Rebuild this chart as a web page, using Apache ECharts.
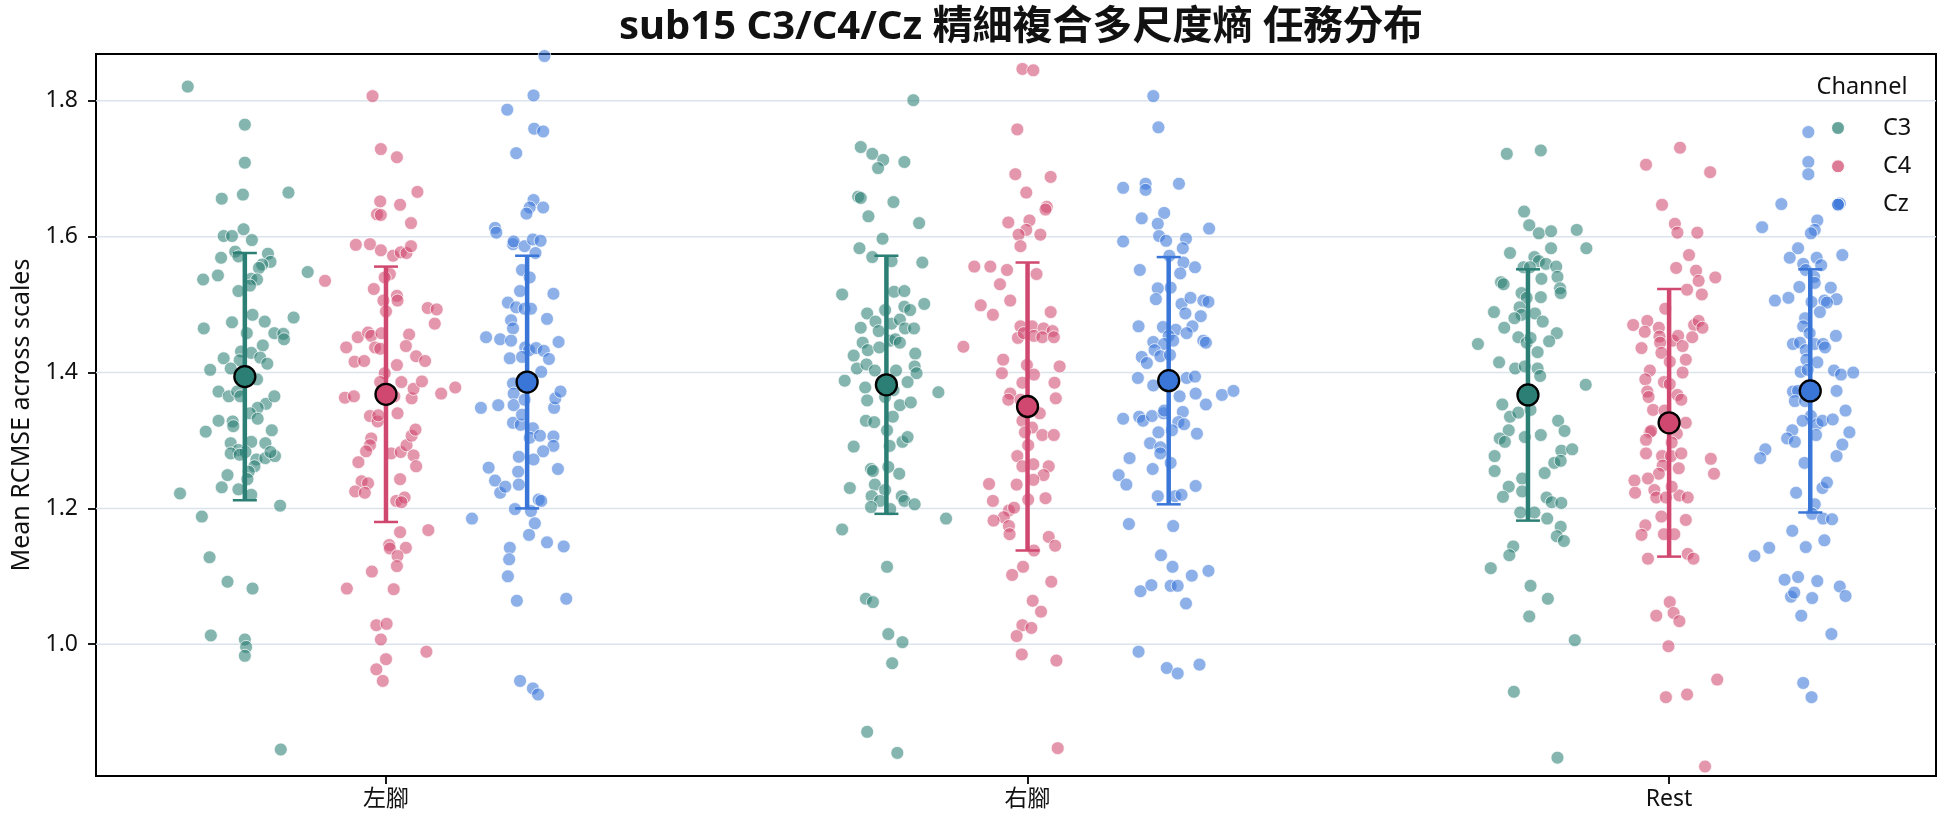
<!DOCTYPE html>
<html>
<head>
<meta charset="utf-8">
<script src="https://cdn.jsdelivr.net/npm/echarts@6/dist/echarts.min.js"></script>
<style>
  html, body { margin: 0; padding: 0; background: #fff; }
  #chart { width: 1944px; height: 827px; }
</style>
</head>
<body>
<div id="chart"></div>
<script>
const categories = ['左腳', '右腳', 'Rest']
const channels = ['C3', 'C4', 'Cz']
const yTicks = [1.0, 1.2, 1.4, 1.6, 1.8]

// each point: [jitter (category units), mean RCMSE]
const c3Left = [[-0.089,1.821],[0,1.765],[0,1.709],[-0.036,1.656],[-0.003,1.662],[0.068,1.665],[-0.033,1.601],[-0.020,1.601],[-0.002,1.611],[0.011,1.595],[-0.037,1.569],[-0.015,1.578],[-0.010,1.571],[0.036,1.575],[0.040,1.563],[0.027,1.559],[0.022,1.554],[-0.065,1.537],[-0.042,1.543],[0.098,1.548],[0.010,1.538],[0.019,1.537],[0.008,1.528],[-0.010,1.520],[0.012,1.485],[-0.064,1.465],[-0.020,1.474],[0.003,1.458],[0.031,1.475],[0.076,1.481],[0.046,1.458],[0.060,1.457],[0.061,1.449],[0.028,1.440],[-0.006,1.431],[0.010,1.429],[-0.033,1.421],[-0.008,1.418],[0.024,1.422],[0.035,1.413],[-0.054,1.404],[-0.022,1.406],[0.019,1.390],[-0.041,1.372],[-0.025,1.365],[-0.012,1.372],[-0.007,1.365],[0.033,1.354],[0.046,1.365],[0.020,1.348],[0.008,1.340],[-0.041,1.329],[-0.019,1.328],[-0.018,1.321],[0.020,1.332],[-0.061,1.313],[0.042,1.315],[0.010,1.298],[-0.022,1.296],[0.032,1.296],[-0.010,1.286],[0.001,1.283],[-0.022,1.281],[-0.008,1.279],[0.018,1.272],[0.032,1.274],[0.047,1.277],[0.040,1.283],[0.015,1.262],[0.006,1.254],[-0.027,1.249],[-0.036,1.231],[0.004,1.243],[-0.010,1.228],[0.010,1.220],[-0.101,1.222],[0.055,1.204],[-0.067,1.188],[-0.055,1.128],[-0.027,1.092],[0.012,1.082],[-0.053,1.013],[0,1.007],[0.002,0.996],[0,0.983],[0.056,0.845]]
const c4Left = [[-0.021,1.807],[-0.008,1.729],[0.017,1.717],[0.049,1.666],[-0.009,1.652],[0.022,1.647],[-0.014,1.633],[-0.008,1.632],[0.039,1.620],[-0.047,1.588],[-0.025,1.589],[-0.008,1.580],[0.011,1.572],[0.023,1.577],[0.032,1.576],[0.039,1.586],[-0.095,1.535],[0.006,1.545],[-0.002,1.540],[-0.019,1.523],[-0.004,1.506],[0.017,1.513],[0.018,1.506],[0,1.490],[0.065,1.495],[0.079,1.493],[0.076,1.472],[-0.062,1.437],[-0.044,1.452],[-0.028,1.459],[-0.023,1.454],[-0.007,1.458],[-0.017,1.437],[-0.009,1.435],[0.036,1.456],[0.031,1.439],[-0.049,1.416],[-0.034,1.417],[0.017,1.411],[0.047,1.424],[0.061,1.417],[-0.002,1.399],[-0.064,1.363],[-0.050,1.365],[-0.009,1.386],[0.013,1.365],[0.024,1.386],[0.040,1.362],[0.043,1.376],[0.056,1.387],[0.086,1.369],[0.108,1.378],[-0.025,1.336],[-0.013,1.328],[-0.012,1.337],[0.018,1.340],[-0.023,1.303],[-0.025,1.293],[-0.031,1.284],[0.008,1.281],[0.023,1.283],[0.032,1.293],[0.040,1.307],[0.046,1.316],[0.043,1.278],[0.047,1.262],[-0.043,1.268],[-0.038,1.240],[-0.028,1.237],[-0.048,1.225],[-0.033,1.223],[0.022,1.243],[0.016,1.211],[0.029,1.216],[0.024,1.209],[0.022,1.165],[0.066,1.168],[0.005,1.146],[0.006,1.141],[0.031,1.142],[0.018,1.130],[0.017,1.115],[-0.022,1.107],[-0.061,1.082],[0.012,1.081],[-0.015,1.028],[0.001,1.030],[-0.008,1.007],[0.063,0.989],[0,0.978],[-0.015,0.963],[-0.005,0.946]]
const czLeft = [[0.027,1.866],[0.010,1.808],[-0.031,1.787],[0.011,1.759],[0.025,1.755],[-0.017,1.723],[0.010,1.654],[0.004,1.643],[0.025,1.643],[-0.001,1.634],[-0.050,1.613],[-0.048,1.606],[-0.022,1.589],[-0.021,1.593],[-0.004,1.586],[0.009,1.596],[0.021,1.594],[0.013,1.576],[-0.008,1.551],[0.004,1.540],[0.041,1.516],[-0.011,1.520],[-0.030,1.503],[-0.017,1.496],[-0.004,1.494],[0.006,1.494],[0.031,1.479],[-0.025,1.477],[-0.022,1.465],[-0.064,1.452],[-0.042,1.449],[-0.025,1.447],[-0.003,1.437],[0.003,1.433],[0.014,1.436],[0.026,1.432],[0.034,1.420],[0.049,1.445],[-0.027,1.421],[-0.008,1.423],[0.022,1.401],[-0.022,1.384],[-0.021,1.369],[-0.072,1.348],[-0.045,1.352],[-0.021,1.352],[-0.004,1.360],[0.042,1.348],[0.044,1.362],[0.052,1.372],[-0.022,1.326],[-0.010,1.323],[-0.008,1.338],[0.009,1.318],[0.004,1.304],[0.020,1.307],[0.041,1.306],[0.041,1.292],[0.025,1.284],[0.010,1.272],[-0.013,1.276],[-0.060,1.260],[0.048,1.258],[-0.014,1.254],[-0.050,1.241],[-0.042,1.223],[-0.034,1.232],[-0.013,1.235],[-0.019,1.199],[0.006,1.196],[0.018,1.213],[0.022,1.211],[-0.086,1.185],[0.012,1.178],[0.003,1.161],[0.031,1.150],[0.057,1.144],[-0.027,1.142],[-0.028,1.125],[-0.030,1.100],[-0.016,1.064],[0.061,1.067],[-0.011,0.946],[0.009,0.935],[0.017,0.926]]
const c3Right = [[0.042,1.801],[-0.040,1.732],[-0.022,1.722],[-0.005,1.713],[-0.013,1.701],[0.028,1.710],[-0.044,1.659],[-0.040,1.657],[0.011,1.651],[-0.028,1.630],[0.051,1.620],[-0.006,1.597],[-0.042,1.583],[-0.022,1.570],[0.008,1.564],[0.056,1.562],[-0.069,1.515],[0.012,1.519],[0.028,1.520],[0.059,1.501],[-0.030,1.487],[-0.002,1.492],[0.028,1.497],[0.037,1.492],[-0.017,1.475],[0.008,1.472],[0.021,1.478],[-0.040,1.466],[-0.012,1.461],[0.029,1.465],[0.043,1.465],[-0.037,1.444],[-0.029,1.433],[-0.011,1.437],[0.006,1.447],[0.014,1.449],[0.021,1.444],[-0.051,1.425],[0.045,1.428],[-0.046,1.406],[-0.031,1.412],[-0.018,1.403],[0.015,1.403],[0.044,1.409],[0.047,1.399],[-0.065,1.388],[0.033,1.386],[0.081,1.371],[-0.033,1.378],[-0.030,1.359],[0.011,1.374],[-0.002,1.364],[0.021,1.352],[0.038,1.356],[0.010,1.335],[-0.032,1.329],[-0.019,1.327],[0.001,1.315],[0.025,1.298],[0.033,1.305],[0.005,1.292],[-0.051,1.291],[0.003,1.261],[-0.024,1.258],[-0.021,1.255],[0.020,1.251],[-0.057,1.230],[-0.018,1.235],[-0.002,1.227],[-0.023,1.218],[-0.010,1.211],[0.024,1.218],[0.028,1.211],[0.044,1.206],[-0.024,1.202],[0.006,1.199],[0.093,1.185],[-0.069,1.169],[0.001,1.114],[-0.032,1.067],[-0.021,1.062],[0.003,1.015],[0.025,1.003],[0.009,0.972],[-0.030,0.871],[0.017,0.840]]
const c4Right = [[-0.008,1.847],[0.009,1.845],[-0.016,1.758],[-0.019,1.692],[0.036,1.688],[-0.002,1.665],[0.030,1.644],[0.028,1.640],[-0.030,1.621],[0.003,1.624],[-0.002,1.610],[0.020,1.603],[-0.014,1.603],[-0.011,1.586],[-0.083,1.556],[-0.058,1.556],[-0.032,1.551],[0.014,1.545],[-0.043,1.530],[-0.073,1.499],[-0.027,1.506],[-0.054,1.485],[0.036,1.489],[-0.011,1.468],[0.007,1.468],[0.025,1.465],[0.039,1.461],[-0.015,1.451],[-0.006,1.458],[0.010,1.454],[0.023,1.452],[0.041,1.452],[-0.100,1.438],[-0.038,1.419],[-0.040,1.399],[-0.001,1.411],[0.010,1.397],[0.050,1.409],[0.042,1.385],[0.044,1.362],[-0.008,1.385],[-0.027,1.369],[-0.030,1.360],[-0.011,1.360],[0.019,1.340],[-0.008,1.329],[0.007,1.319],[-0.004,1.312],[0.023,1.308],[0.041,1.308],[0.001,1.293],[-0.016,1.277],[0.009,1.265],[-0.008,1.262],[0.033,1.262],[0.025,1.249],[0.009,1.242],[-0.017,1.235],[-0.060,1.236],[-0.054,1.211],[0.001,1.213],[0.028,1.215],[-0.029,1.197],[-0.021,1.201],[-0.037,1.187],[-0.053,1.182],[-0.029,1.174],[-0.028,1.162],[0.033,1.158],[0.043,1.145],[0.010,1.138],[-0.007,1.114],[-0.024,1.102],[0.037,1.092],[0.008,1.064],[0.021,1.048],[-0.008,1.028],[0.006,1.024],[-0.017,1.012],[-0.009,0.985],[0.045,0.976],[0.047,0.847]]
const czRight = [[-0.024,1.807],[-0.016,1.761],[-0.071,1.672],[-0.036,1.678],[-0.036,1.669],[0.016,1.678],[-0.042,1.627],[-0.007,1.635],[-0.017,1.619],[0.063,1.612],[-0.071,1.593],[-0.015,1.601],[-0.004,1.594],[0.027,1.597],[0.022,1.583],[0.001,1.572],[-0.045,1.551],[0.023,1.562],[0.041,1.555],[0.018,1.546],[0.003,1.525],[-0.017,1.524],[-0.020,1.508],[0.020,1.501],[0.034,1.510],[0.054,1.506],[0.062,1.504],[0.026,1.487],[0.050,1.483],[-0.047,1.468],[-0.009,1.467],[0.011,1.463],[0.037,1.468],[0.028,1.458],[0,1.454],[0.007,1.447],[-0.024,1.445],[-0.007,1.442],[0.054,1.447],[0.058,1.444],[-0.022,1.433],[-0.042,1.423],[-0.034,1.414],[-0.013,1.424],[0.002,1.426],[-0.048,1.392],[-0.024,1.381],[0.028,1.392],[0.041,1.394],[0.042,1.369],[0.017,1.365],[0.058,1.353],[0.083,1.367],[0.101,1.373],[-0.071,1.332],[-0.046,1.335],[-0.040,1.329],[-0.026,1.336],[-0.008,1.340],[-0.007,1.344],[0.022,1.342],[0.015,1.327],[0.024,1.324],[0.044,1.310],[-0.016,1.312],[0.005,1.315],[-0.029,1.296],[-0.013,1.290],[-0.013,1.281],[0.003,1.267],[-0.061,1.274],[-0.025,1.258],[-0.078,1.249],[-0.066,1.235],[0.042,1.233],[-0.017,1.218],[0.010,1.218],[0.020,1.220],[-0.062,1.177],[0.007,1.174],[-0.012,1.131],[0.006,1.114],[0.036,1.101],[0.062,1.108],[-0.044,1.078],[-0.027,1.087],[0.003,1.086],[0.014,1.086],[0.027,1.060],[-0.047,0.989],[-0.003,0.965],[0.014,0.957],[0.048,0.970]]
const c3Rest = [[-0.033,1.722],[0.020,1.727],[-0.006,1.637],[0.002,1.617],[0.017,1.605],[0.036,1.608],[0.076,1.610],[0.091,1.583],[0.036,1.583],[-0.028,1.576],[0.010,1.570],[0.017,1.564],[0.028,1.560],[0.044,1.556],[-0.007,1.555],[0.003,1.555],[0.046,1.541],[0.021,1.538],[-0.042,1.533],[-0.038,1.530],[0.050,1.524],[0.051,1.517],[-0.010,1.517],[-0.002,1.510],[0.020,1.511],[-0.053,1.489],[-0.013,1.496],[-0.010,1.485],[0.011,1.487],[-0.021,1.480],[0.023,1.475],[-0.037,1.466],[0.045,1.458],[-0.015,1.452],[-0.002,1.444],[0.004,1.451],[0.033,1.446],[-0.078,1.442],[0.015,1.430],[-0.045,1.415],[-0.020,1.406],[-0.005,1.409],[0.015,1.406],[0.019,1.395],[0.090,1.382],[-0.040,1.353],[-0.028,1.335],[-0.015,1.341],[0.004,1.345],[0.047,1.329],[0.057,1.314],[-0.030,1.315],[-0.044,1.303],[-0.036,1.298],[-0.005,1.305],[0.020,1.308],[-0.052,1.277],[0.052,1.285],[0.069,1.287],[0.041,1.267],[0.051,1.270],[-0.052,1.255],[0.026,1.252],[-0.009,1.244],[-0.030,1.232],[-0.009,1.225],[-0.039,1.217],[0.029,1.216],[0.037,1.209],[0.052,1.208],[-0.012,1.194],[0.010,1.194],[0.030,1.185],[0.051,1.173],[0.045,1.159],[0.056,1.152],[-0.023,1.144],[-0.029,1.131],[-0.058,1.112],[0.004,1.086],[0.031,1.067],[0.002,1.041],[0.073,1.006],[-0.022,0.930],[0.046,0.833]]
const c4Rest = [[0.017,1.731],[-0.036,1.706],[0.064,1.695],[-0.011,1.647],[0.009,1.619],[0.013,1.606],[0.044,1.606],[0.031,1.573],[0.011,1.554],[0.042,1.550],[0.046,1.535],[0.072,1.540],[0.028,1.522],[0.051,1.515],[-0.006,1.494],[-0.056,1.470],[-0.034,1.476],[-0.038,1.460],[-0.016,1.466],[-0.015,1.453],[-0.014,1.444],[0.006,1.447],[0.014,1.454],[0.039,1.470],[0.046,1.476],[0.052,1.466],[0.036,1.452],[0.021,1.439],[-0.043,1.436],[-0.012,1.429],[0.026,1.419],[0.001,1.416],[-0.030,1.403],[0.021,1.400],[-0.037,1.390],[-0.008,1.386],[0.001,1.383],[-0.034,1.372],[-0.032,1.364],[0.013,1.367],[0.019,1.360],[-0.025,1.345],[-0.007,1.344],[0.026,1.326],[-0.030,1.312],[-0.028,1.314],[0.012,1.310],[-0.036,1.301],[0.004,1.297],[-0.036,1.281],[-0.011,1.277],[0.003,1.277],[0.019,1.281],[-0.010,1.263],[0.015,1.259],[-0.016,1.251],[-0.033,1.244],[-0.054,1.241],[-0.053,1.223],[-0.023,1.227],[-0.020,1.216],[-0.005,1.216],[0.016,1.219],[0.029,1.216],[0.004,1.232],[0.065,1.273],[0.070,1.251],[-0.012,1.188],[0.026,1.183],[-0.037,1.175],[-0.043,1.161],[-0.008,1.162],[0.008,1.162],[-0.033,1.126],[0.029,1.133],[0.038,1.126],[0.001,1.062],[-0.020,1.042],[0.007,1.046],[0.016,1.034],[-0.001,0.997],[0.075,0.948],[-0.005,0.922],[0.028,0.926],[0.056,0.820]]
const czRest = [[-0.003,1.754],[-0.003,1.710],[-0.003,1.692],[-0.045,1.648],[0.044,1.647],[0.046,1.649],[-0.075,1.614],[0.011,1.624],[0.007,1.610],[0.001,1.605],[-0.019,1.583],[-0.032,1.569],[0.050,1.573],[-0.011,1.560],[0.010,1.569],[0.017,1.558],[-0.007,1.551],[0.006,1.541],[0.007,1.532],[-0.017,1.526],[0.032,1.525],[-0.055,1.506],[-0.034,1.510],[0.002,1.504],[0.022,1.506],[0.041,1.508],[0.026,1.503],[0.015,1.489],[-0.008,1.480],[-0.011,1.468],[-0.001,1.458],[0.040,1.454],[-0.027,1.442],[-0.016,1.444],[-0.007,1.433],[0.007,1.442],[0.020,1.442],[0.023,1.437],[-0.006,1.419],[0.011,1.415],[-0.015,1.401],[-0.004,1.404],[0.037,1.403],[0.048,1.397],[0.067,1.400],[-0.027,1.372],[-0.019,1.373],[0.041,1.373],[-0.024,1.358],[-0.008,1.358],[0.055,1.344],[0.001,1.336],[-0.012,1.329],[0.011,1.324],[0.019,1.329],[0.035,1.331],[-0.028,1.315],[0.061,1.312],[0.009,1.308],[-0.036,1.303],[-0.024,1.298],[0.050,1.294],[-0.070,1.287],[-0.078,1.274],[0.041,1.277],[-0.009,1.267],[0.019,1.230],[0.026,1.238],[-0.022,1.223],[0.007,1.206],[0.003,1.192],[0.020,1.185],[0.034,1.184],[-0.028,1.167],[0.022,1.153],[-0.064,1.142],[-0.007,1.143],[-0.087,1.130],[-0.040,1.095],[-0.019,1.099],[0.011,1.093],[0.046,1.085],[-0.030,1.070],[-0.025,1.076],[0.003,1.068],[0.055,1.071],[-0.014,1.042],[0.033,1.015],[-0.011,0.943],[0.002,0.922]]

// group mean and standard deviation (left, right, rest)
const meanC3 = [1.394, 1.382, 1.367]
const sdC3 = [0.182, 0.190, 0.185]
const meanC4 = [1.368, 1.350, 1.326]
const sdC4 = [0.188, 0.212, 0.197]
const meanCz = [1.386, 1.388, 1.373]
const sdCz = [0.186, 0.182, 0.179]

const groups = {
  C3: { pts: [c3Left, c3Right, c3Rest], mean: meanC3, sd: sdC3, color: '#2b7f74', light: 'rgba(43,127,116,0.72)' },
  C4: { pts: [c4Left, c4Right, c4Rest], mean: meanC4, sd: sdC4, color: '#d0486f', light: 'rgba(208,72,111,0.72)' },
  Cz: { pts: [czLeft, czRight, czRest], mean: meanCz, sd: sdCz, color: '#3a76d8', light: 'rgba(58,118,216,0.72)' }
}
const dodge = [-0.22, 0, 0.22]
const fontFamily = "'Noto Sans', 'Noto Sans CJK TC', sans-serif"

const chart = echarts.init(document.getElementById('chart'))

function renderErr (params, api) {
  const x = api.value(0)
  const m = api.value(1)
  const s = api.value(2)
  const top = api.coord([x, m + s])
  const bot = api.coord([x, m - s])
  const color = api.visual('color')
  return {
    type: 'group',
    children: [
      { type: 'line', shape: { x1: top[0], y1: top[1], x2: bot[0], y2: bot[1] }, style: { stroke: color, lineWidth: 4.5 } },
      { type: 'line', shape: { x1: top[0] - 12, y1: top[1], x2: top[0] + 12, y2: top[1] }, style: { stroke: color, lineWidth: 2.5 } },
      { type: 'line', shape: { x1: bot[0] - 12, y1: bot[1], x2: bot[0] + 12, y2: bot[1] }, style: { stroke: color, lineWidth: 2.5 } }
    ]
  }
}

// horizontal grid lines at the y ticks
function renderGrid (params, api) {
  const p = api.coord([0, api.value(1)])
  const cs = params.coordSys
  return {
    type: 'line',
    shape: { x1: cs.x, y1: p[1], x2: cs.x + cs.width, y2: p[1] },
    style: { stroke: '#dbe4ec', lineWidth: 1.5 }
  }
}

const series = [{
  type: 'custom',
  name: 'grid',
  renderItem: renderGrid,
  data: yTicks.map(v => [0, v]),
  z: 1,
  silent: true
}]

channels.forEach((ch, j) => {
  const g = groups[ch]
  const data = []
  g.pts.forEach((arr, i) => {
    arr.forEach(p => data.push([i + dodge[j] + p[0], p[1]]))
  })
  series.push({
    type: 'scatter',
    name: ch,
    data: data,
    symbolSize: 13,
    itemStyle: { color: g.light, borderColor: 'rgba(255,255,255,0.9)', borderWidth: 1 },
    z: 2
  })
})

channels.forEach((ch, j) => {
  const g = groups[ch]
  series.push({
    type: 'custom',
    name: ch + ' sd',
    renderItem: renderErr,
    itemStyle: { color: g.color },
    encode: { x: 0, y: 1 },
    data: categories.map((c, i) => [i + dodge[j], g.mean[i], g.sd[i]]),
    z: 3
  })
  series.push({
    type: 'scatter',
    name: ch + ' mean',
    data: categories.map((c, i) => [i + dodge[j], g.mean[i]]),
    symbolSize: 21,
    itemStyle: { color: g.color, borderColor: '#000', borderWidth: 2.3, opacity: 1 },
    z: 5
  })
})

// legend box in the upper right corner (title + one row per channel)
const legendItems = [{
  type: 'text',
  x: 1862,
  y: 87,
  style: { text: 'Channel', fontSize: 23.5, fill: '#111', align: 'center', verticalAlign: 'middle', fontFamily: fontFamily }
}]
channels.forEach((ch, j) => {
  const y = 128 + j * 38.3
  legendItems.push({
    type: 'circle',
    shape: { cx: 1838, cy: y, r: 6.5 },
    style: { fill: groups[ch].light, stroke: '#fff', lineWidth: 1 },
    z: 10
  })
  legendItems.push({
    type: 'text',
    x: 1883,
    y: y,
    style: { text: ch, fontSize: 23.5, fill: '#111', align: 'left', verticalAlign: 'middle', fontFamily: fontFamily },
    z: 10
  })
})

const option = {
  animation: false,
  backgroundColor: '#fff',
  textStyle: { fontFamily: fontFamily },
  title: {
    text: 'sub15 C3/C4/Cz 精細複合多尺度熵 任務分布',
    left: 1016,
    top: 3,
    textAlign: 'center',
    textStyle: { fontSize: 40, fontWeight: 'bold', color: '#111', fontFamily: fontFamily }
  },
  graphic: legendItems,
  grid: {
    left: 96, right: 8, top: 54, bottom: 51,
    outerBoundsMode: 'none',
    containLabel: false,
    show: true, borderColor: '#000', borderWidth: 2
  },
  xAxis: {
    type: 'value',
    min: -0.452,
    max: 2.416,
    axisLine: { show: true, onZero: false, lineStyle: { color: '#000', width: 2 } },
    axisTick: { show: true, customValues: [0, 1, 2], length: 8, lineStyle: { color: '#000', width: 1.8 } },
    axisLabel: {
      customValues: [0, 1, 2],
      formatter: v => categories[Math.round(v)],
      fontSize: 23, color: '#111', margin: 12
    },
    splitLine: { show: false }
  },
  yAxis: {
    type: 'value',
    min: 0.806,
    max: 1.869,
    name: 'Mean RCMSE across scales',
    nameLocation: 'middle',
    nameRotate: 90,
    nameGap: 62,
    nameTextStyle: { fontSize: 25, color: '#111' },
    axisLine: { show: true, onZero: false, lineStyle: { color: '#000', width: 2 } },
    axisTick: { show: true, customValues: yTicks, length: 8, lineStyle: { color: '#000', width: 1.8 } },
    axisLabel: {
      customValues: yTicks,
      formatter: v => v.toFixed(1),
      fontSize: 23, color: '#111', margin: 18
    },
    splitLine: { show: false }
  },
  series: series
}

chart.setOption(option)
</script>
</body>
</html>
